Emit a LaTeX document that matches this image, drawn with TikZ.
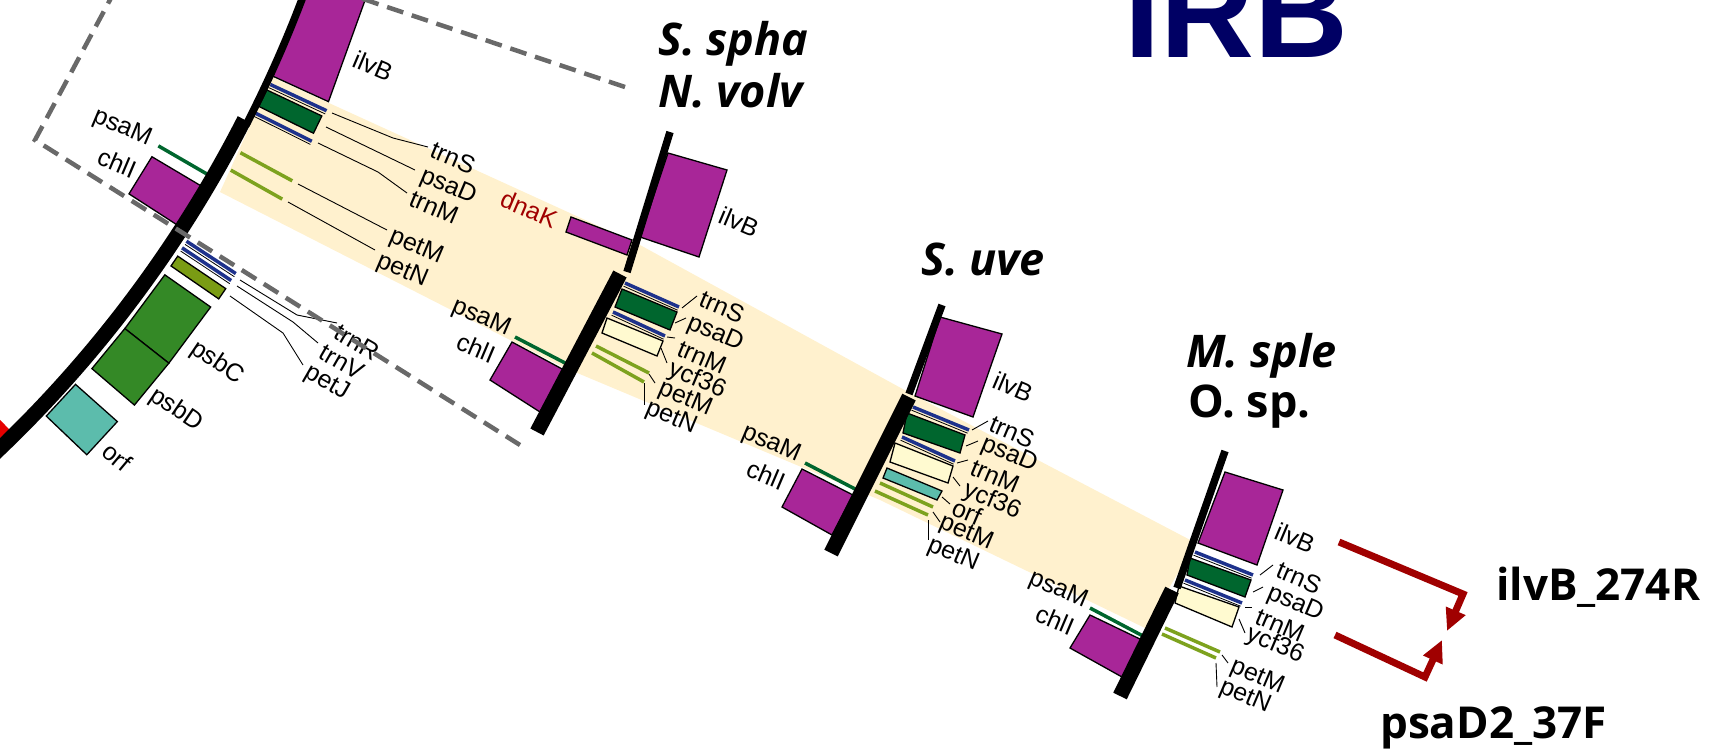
\documentclass[tikz,border=0pt]{standalone}
\usepackage{fontspec}
\setmainfont{Liberation Sans}
\newfontfamily\titlefont{Open Sans}
\usetikzlibrary{arrows.meta}

\definecolor{genepurple}{RGB}{168,38,152}
\definecolor{psagreen}{RGB}{0,102,46}
\definecolor{trnablue}{RGB}{30,50,140}
\definecolor{ycfyellow}{RGB}{255,250,208}
\definecolor{petgreen}{RGB}{125,162,30}
\definecolor{petjolive}{RGB}{122,156,20}
\definecolor{psbgreen}{RGB}{52,137,38}
\definecolor{orfteal}{RGB}{92,188,172}
\definecolor{bandyellow}{RGB}{255,241,206}
\definecolor{arrowred}{RGB}{160,0,0}
\definecolor{irbnavy}{RGB}{0,0,100}
\definecolor{framegray}{RGB}{105,105,105}
\definecolor{markred}{RGB}{230,0,0}

% tRNA: blue bar with a thin black edge
\newcommand{\trnaline}[2]{\draw[trna] #1 -- #2; \draw[trnaedge] #1 -- #2;}
% box on the circular map, given by angles and radii
\newcommand{\arcbox}[5]{\draw[gene,fill=#5] (#1:#3) -- (#1:#4) -- (#2:#4) -- (#2:#3) -- cycle;}

\begin{document}
\begin{tikzpicture}
    [x=1pt,y=-1pt,
    gene/.style={draw=black,line width=1.3pt},
    trna/.style={draw=trnablue,line width=3.5pt},
    trnaedge/.style={draw=black,line width=0.8pt,shift={(-1.4,3.2)}},
    smallgene/.style={line width=3.5pt},
    chromo/.style={line width=15pt},
    chromothin/.style={line width=7.5pt},
    lbl/.style={font=\fontsize{25}{25}\selectfont,rotate=-23,inner sep=0pt},
    lead/.style={line width=0.9pt},
    species/.style={font=\titlefont\fontsize{45}{45}\selectfont\bfseries,anchor=base west,inner sep=0pt},
    primer/.style={font=\titlefont\fontsize{44}{44}\selectfont\bfseries,anchor=base west,inner sep=0pt},
    redarrow/.style={draw=arrowred,line width=7pt,line join=miter,-{Triangle[length=22pt,width=20pt]}},
    frame/.style={draw=framegray,line width=4.5pt,line join=miter,dash pattern=on 17pt off 9pt}
    ]
    \useasboundingbox (0,0) rectangle (1732,755);
    \clip (0,0) rectangle (1732,755);

    % syntenic band
    \fill[bandyellow] (272,77) -- (640,245) -- (910,393) -- (1196,543) -- (1145,628)
      -- (880,500) -- (563,367) -- (220,192) -- cycle;

    % circular map
    \begin{scope}[shift={(-848,-437)}]
      \arcbox{15}{24.6}{1233}{1294}{genepurple}
      \trnaline{(25:1234)}{(25:1296)}
      \arcbox{25.3}{26.15}{1233}{1294}{psagreen}
      \trnaline{(26.5:1233)}{(26.5:1296)}
      \draw[smallgene,petgreen] (28.45:1238) -- (28.45:1297);
      \draw[smallgene,petgreen] (29.37:1238) -- (29.37:1297);
      \draw[smallgene,psagreen] (30.08:1163) -- (30.08:1220);
      \arcbox{30.7}{32.85}{1163}{1222}{genepurple}
      \trnaline{(33.25:1237)}{(33.25:1296)}
      \trnaline{(33.62:1237)}{(33.62:1296)}
      \arcbox{34.05}{34.6}{1238}{1296}{petjolive}
      \arcbox{35.1}{38.2}{1238}{1294}{psbgreen}
      \arcbox{38.2}{40.6}{1238}{1294}{psbgreen}
      \arcbox{41.65}{43.65}{1236}{1292}{orfteal}
      \fill[markred] (45.3:1160) -- (45.3:1219) -- (48:1219) -- (48:1160) -- cycle;
      \draw[chromothin] (15:1230) arc[start angle=15,end angle=27.2,radius=1230];
      \draw[chromo] (27:1226) arc[start angle=27,end angle=50,radius=1226];
    \end{scope}

    % S. spha / N. volv
    \draw[gene,fill=genepurple] (571,217) -- (632,240) -- (627,255) -- (566,232) -- cycle;
    \draw[gene,fill=genepurple] (668,153) -- (727,170) -- (699,257) -- (640,237) -- cycle;
    \trnaline{(625,283)}{(679,307)}
    \draw[gene,fill=psagreen] (622,289) -- (677,312) -- (670,330) -- (615,307) -- cycle;
    \trnaline{(613,312)}{(665,336)}
    \draw[gene,fill=ycfyellow] (607,318) -- (663,341) -- (657,356) -- (602,333) -- cycle;
    \draw[smallgene,petgreen] (596,346) -- (649,373);
    \draw[smallgene,petgreen] (592,353) -- (644,382);
    \draw[smallgene,psagreen] (515,337) -- (567,364);
    \draw[gene,fill=genepurple] (512,342) -- (564,370) -- (540,412) -- (490,380) -- cycle;
    \draw[chromothin] (670,132) -- (627,272);
    \draw[chromo] (620,274) -- (537,432);

    % S. uve
    \draw[gene,fill=genepurple] (940,317) -- (1002,334) -- (973,417) -- (915,396) -- cycle;
    \trnaline{(913,407)}{(969,430)}
    \draw[gene,fill=psagreen] (907,413) -- (965,435) -- (960,453) -- (903,433) -- cycle;
    \trnaline{(902,437)}{(955,461)}
    \draw[gene,fill=ycfyellow] (895,443) -- (953,466) -- (948,483) -- (890,462) -- cycle;
    \draw[gene,fill=orfteal] (887,468) -- (942,491) -- (937,500) -- (883,478) -- cycle;
    \draw[smallgene,petgreen] (880,483) -- (933,507);
    \draw[smallgene,petgreen] (875,491) -- (928,515);
    \draw[smallgene,psagreen] (805,463) -- (857,490);
    \draw[gene,fill=genepurple] (802,469) -- (853,495) -- (832,535) -- (782,507) -- cycle;
    \draw[chromothin] (942,305) -- (909,394);
    \draw[chromo] (909,397) -- (831,553);

    % M. sple / O. sp.
    \draw[gene,fill=genepurple] (1225,472) -- (1283,490) -- (1257,565) -- (1198,543) -- cycle;
    \trnaline{(1195,552)}{(1253,575)}
    \draw[gene,fill=psagreen] (1190,558) -- (1251,580) -- (1245,597) -- (1187,575) -- cycle;
    \trnaline{(1185,580)}{(1242,603)}
    \draw[gene,fill=ycfyellow] (1179,586) -- (1239,607) -- (1232,627) -- (1175,603) -- cycle;
    \draw[smallgene,petgreen] (1165,628) -- (1220,652);
    \draw[smallgene,petgreen] (1162,634) -- (1216,658);
    \draw[smallgene,psagreen] (1090,608) -- (1143,636);
    \draw[gene,fill=genepurple] (1090,615) -- (1142,640) -- (1122,677) -- (1070,648) -- cycle;
    \draw[chromothin] (1225,451) -- (1177,588);
    \draw[chromo] (1172,590) -- (1120,696);

    % gene names, circular map
    \node[lbl] (mapilvB) at (373,66) {ilvB};
    \node[lbl] (maptrnS) at (453,158) {trnS};
    \node[lbl] (mappsaD) at (448,187) {psaD};
    \node[lbl] (maptrnM) at (434,207) {trnM};
    \node[lbl] (mappetM) at (416,247) {petM};
    \node[lbl] (mappetN) at (402,271) {petN};
    \node[lbl] (mappsaM) at (122,128) {psaM};
    \node[lbl] (mapchlI) at (117,163) {chlI};
    \node[lbl,rotate=-7] (maptrnR) at (357,342) {trnR};
    \node[lbl,rotate=-7] (maptrnV) at (342,362) {trnV};
    \node[lbl,rotate=-7] (mappetJ) at (327,383) {petJ};
    \node[lbl,rotate=-11] (mappsbC) at (217,363) {psbC};
    \node[lbl,rotate=-11] (mappsbD) at (176,410) {psbD};
    \node[lbl,rotate=-17] (maporf) at (117,457) {orf};
    \draw[lead] (332,113) -- (393,138) -- (428,147);
    \draw[lead] (326,127) -- (415,170);
    \draw[lead] (318,143) -- (378,172) -- (407,193);
    \draw[lead] (298,184) -- (387,230);
    \draw[lead] (288,202) -- (375,250);
    \draw[lead] (240,280) -- (297,315) -- (337,323);
    \draw[lead] (237,286) -- (293,322) -- (318,343);
    \draw[lead] (230,296) -- (283,333) -- (303,365);

    % gene names, S. spha
    \node[lbl,text=arrowred] (sphdnaK) at (529,209) {dnaK};
    \node[lbl] (sphilvB) at (739,222) {ilvB};
    \node[lbl] (sphtrnS) at (722,307) {trnS};
    \node[lbl] (sphpsaD) at (715,334) {psaD};
    \node[lbl] (sphtrnM) at (702,357) {trnM};
    \node[lbl] (sphycf) at (697,380) {ycf36};
    \node[lbl] (sphpetM) at (685,399) {petM};
    \node[lbl] (sphpetN) at (671,418) {petN};
    \node[lbl] (sphpsaM) at (481,318) {psaM};
    \node[lbl] (sphchlI) at (476,348) {chlI};
    \draw[lead] (682,308) -- (697,296);
    \draw[lead] (675,323) -- (686,318);
    \draw[lead] (667,337) -- (675,338);
    \draw[lead] (661,348) -- (667,363);
    \draw[lead] (649,374) -- (655,383);
    \draw[lead] (644,383) -- (644,405);

    % gene names, S. uve
    \node[lbl] (uveilvB) at (1013,387) {ilvB};
    \node[lbl] (uvetrnS) at (1012,432) {trnS};
    \node[lbl] (uvepsaD) at (1009,455) {psaD};
    \node[lbl] (uvetrnM) at (995,476) {trnM};
    \node[lbl] (uveycf) at (992,501) {ycf36};
    \node[lbl] (uveorf) at (967,512) {orf};
    \node[lbl] (uvepetM) at (966,533) {petM};
    \node[lbl] (uvepetN) at (953,555) {petN};
    \node[lbl] (uvepsaM) at (771,444) {psaM};
    \node[lbl] (uvechlI) at (766,475) {chlI};
    \draw[lead] (972,430) -- (988,421);
    \draw[lead] (966,446) -- (978,441);
    \draw[lead] (957,463) -- (968,460);
    \draw[lead] (953,477) -- (960,486);
    \draw[lead] (942,497) -- (950,504);
    \draw[lead] (933,512) -- (940,522);
    \draw[lead] (928,520) -- (928,540);

    % gene names, M. sple
    \node[lbl] (spilvB) at (1295,538) {ilvB};
    \node[lbl] (sptrnS) at (1299,578) {trnS};
    \node[lbl] (sppsaD) at (1295,604) {psaD};
    \node[lbl] (sptrnM) at (1280,625) {trnM};
    \node[lbl] (spycf) at (1275,645) {ycf36};
    \node[lbl] (sppetM) at (1257,677) {petM};
    \node[lbl] (sppetN) at (1245,697) {petN};
    \node[lbl] (sppsaM) at (1058,590) {psaM};
    \node[lbl] (spchlI) at (1055,620) {chlI};
    \draw[lead] (1260,575) -- (1273,565);
    \draw[lead] (1253,592) -- (1263,587);
    \draw[lead] (1245,607) -- (1252,607);
    \draw[lead] (1239,619) -- (1245,633);
    \draw[lead] (1222,655) -- (1228,663);
    \draw[lead] (1216,663) -- (1217,687);

    % region boxed on the circular map
    \draw[frame] (625,87) -- (149,-73) -- (35,140) -- (520,445);

    % primers
    \draw[redarrow] (1339,542) -- (1463,594) -- (1447,631);
    \draw[redarrow] (1335,635) -- (1425,677) -- (1442,640);
    \node[primer] (revprimer) at (1496,600) {ilvB\_274R};
    \node[primer] (fwdprimer) at (1380,738) {psaD2\_37F};

    % species and title
    \node[species] (sspha) at (658,55) {\itshape S. spha};
    \node[species] (nvolv) at (658,107) {\itshape N. volv};
    \node[species] (suve) at (921,275) {\itshape S. uve};
    \node[species] (msple) at (1186,367) {\itshape M. sple};
    \node[species] (osp) at (1188,417) {O. sp.};
    \node[anchor=base west,inner sep=0pt,text=irbnavy,font=\fontsize{130}{130}\selectfont\bfseries] (irb) at (1124,57) {IRB};
\end{tikzpicture}
\end{document}
